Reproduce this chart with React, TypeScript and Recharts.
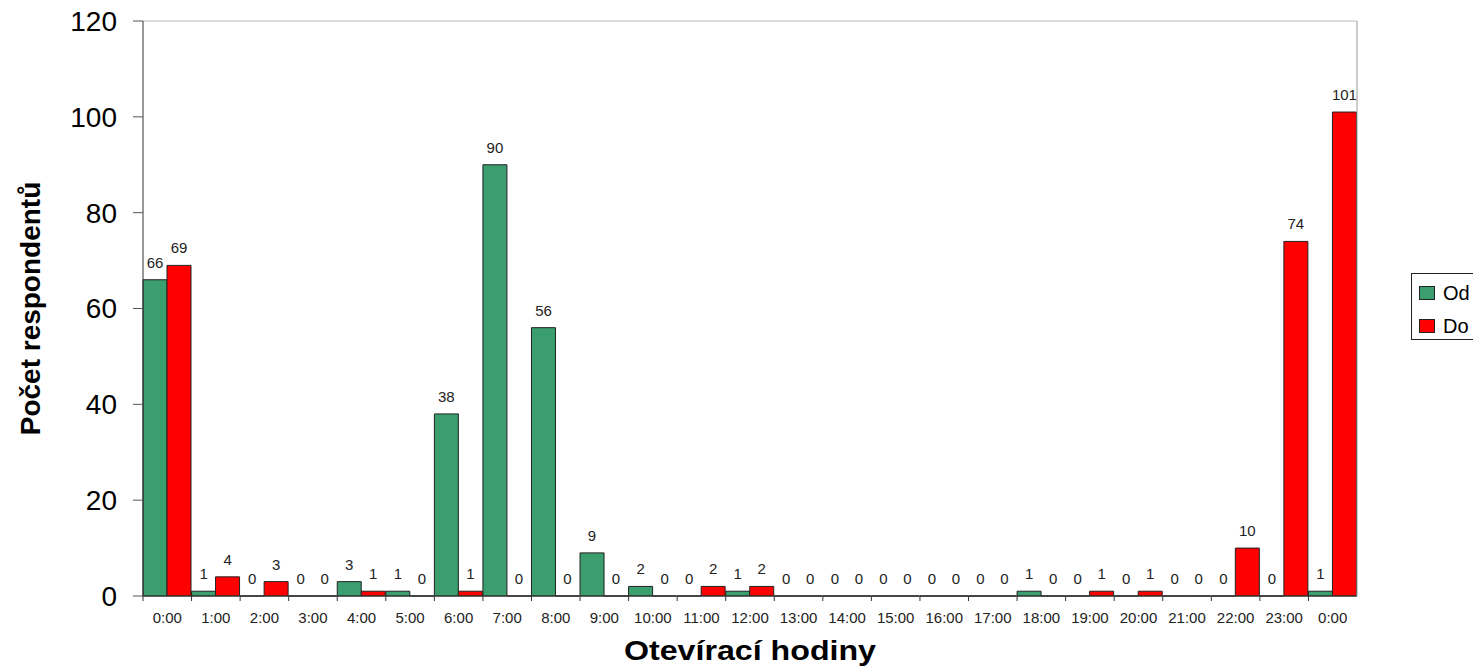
import React from "react";
import {
  BarChart,
  Bar,
  XAxis,
  YAxis,
  LabelList,
  ReferenceLine,
  Legend,
} from "recharts";

const FONT = "'Liberation Sans', Arial, sans-serif";

const hours = [
  "0:00", "1:00", "2:00", "3:00", "4:00", "5:00", "6:00", "7:00", "8:00",
  "9:00", "10:00", "11:00", "12:00", "13:00", "14:00", "15:00", "16:00",
  "17:00", "18:00", "19:00", "20:00", "21:00", "22:00", "23:00", "0:00",
];
const odValues = [66, 1, 0, 0, 3, 1, 38, 90, 56, 9, 2, 0, 1, 0, 0, 0, 0, 0, 1, 0, 0, 0, 0, 0, 1];
const doValues = [69, 4, 3, 0, 1, 0, 1, 0, 0, 0, 0, 2, 2, 0, 0, 0, 0, 0, 0, 1, 1, 0, 10, 74, 101];
const yTicks = [0, 20, 40, 60, 80, 100, 120];

const series = [
  { key: "od", name: "Od", color: "#3a9e6e" },
  { key: "do", name: "Do", color: "#ff0000" },
];

const data = hours.map((hour, i) => ({ hour, od: odValues[i], do: doValues[i] }));

function HourTick(props: any) {
  const { x, y, payload } = props;
  const half = payload && payload.offset ? payload.offset : 24.28;
  return (
    <g>
      <line x1={x - half} x2={x - half} y1={y - 5} y2={y} stroke="#333" />
      <text
        x={x}
        y={y + 17}
        dy="0.355em"
        textAnchor="middle"
        fontSize={15}
        fill="#222"
        fontFamily={FONT}
      >
        {payload.value}
      </text>
    </g>
  );
}

// value above each bar, zeros included
function ValueLabel(props: any) {
  const { x, y, width, value } = props;
  if (value === undefined || value === null) return null;
  return (
    <text
      x={Number(x) + Number(width) / 2}
      y={Number(y) - 12}
      textAnchor="middle"
      fontSize={15}
      fill="#222"
      fontFamily={FONT}
    >
      {value}
    </text>
  );
}

function YTitle(props: any) {
  const vb = props.viewBox || {};
  const cx = 30;
  const cy = vb.height ? vb.y + vb.height / 2 : 308.5;
  return (
    <text
      x={cx}
      y={cy}
      dy="0.35em"
      transform={`rotate(-90 ${cx} ${cy})`}
      textAnchor="middle"
      fontSize={28}
      fontWeight="bold"
      fill="#000"
      fontFamily={FONT}
    >
      Počet respondentů
    </text>
  );
}

function XTitle(props: any) {
  const vb = props.viewBox || {};
  const cx = vb.width ? vb.x + vb.width / 2 : 750;
  return (
    <text
      x={cx}
      y={660}
      textAnchor="middle"
      fontSize={27}
      fontWeight="bold"
      fill="#000"
      fontFamily={FONT}
      textLength={252}
      lengthAdjust="spacingAndGlyphs"
    >
      Otevírací hodiny
    </text>
  );
}

function LegendBox() {
  return (
    <div
      style={{
        border: "1px solid #222",
        background: "#fff",
        boxSizing: "border-box",
        width: 90,
        height: 67,
        padding: "2px 0 0 7px",
        fontFamily: FONT,
        fontSize: 20,
        color: "#000",
      }}
    >
      {series.map((s) => (
        <div key={s.key} style={{ display: "flex", alignItems: "center", height: 33 }}>
          <span
            style={{
              display: "inline-block",
              width: 16,
              height: 14,
              boxSizing: "border-box",
              border: "1px solid #222",
              background: s.color,
              marginRight: 8,
            }}
          />
          <span style={{ lineHeight: 1 }}>{s.name}</span>
        </div>
      ))}
    </div>
  );
}

export default function App() {
  return (
    <div
      style={{
        position: "absolute",
        left: 0,
        top: 0,
        width: 1473,
        height: 667,
        overflow: "hidden",
        background: "#fff",
      }}
    >
      <BarChart
        width={1473}
        height={667}
        data={data}
        margin={{ top: 21, right: 0, bottom: 0, left: 0 }}
        barCategoryGap={0}
        barGap={0}
      >
        <XAxis
          dataKey="hour"
          height={71}
          interval={0}
          tickLine={false}
          tickSize={5}
          tickMargin={0}
          axisLine={{ stroke: "#333" }}
          tick={<HourTick />}
          label={XTitle}
        />
        <YAxis
          yAxisId="left"
          width={143}
          domain={[0, 120]}
          ticks={yTicks}
          interval={0}
          tickSize={10}
          tickMargin={16}
          axisLine={{ stroke: "#333" }}
          tickLine={{ stroke: "#555" }}
          tick={{ fontSize: 28, fill: "#000", fontFamily: FONT }}
          label={YTitle}
        />
        <YAxis
          yAxisId="right"
          orientation="right"
          width={116}
          domain={[0, 120]}
          tick={false}
          tickLine={false}
          axisLine={{ stroke: "#999" }}
        />
        <ReferenceLine yAxisId="left" y={120} stroke="#bbb" />
        <Legend
          layout="horizontal"
          verticalAlign="middle"
          align="center"
          wrapperStyle={{ left: 1411, top: 273, width: 90, height: 67 }}
          content={() => <LegendBox />}
        />
        {series.map((s) => (
          <Bar
            key={s.key}
            yAxisId="left"
            dataKey={s.key}
            name={s.name}
            fill={s.color}
            stroke="#222"
            strokeWidth={1}
            minPointSize={0.01}
            isAnimationActive={false}
          >
            <LabelList dataKey={s.key} content={ValueLabel} />
          </Bar>
        ))}
      </BarChart>
    </div>
  );
}
